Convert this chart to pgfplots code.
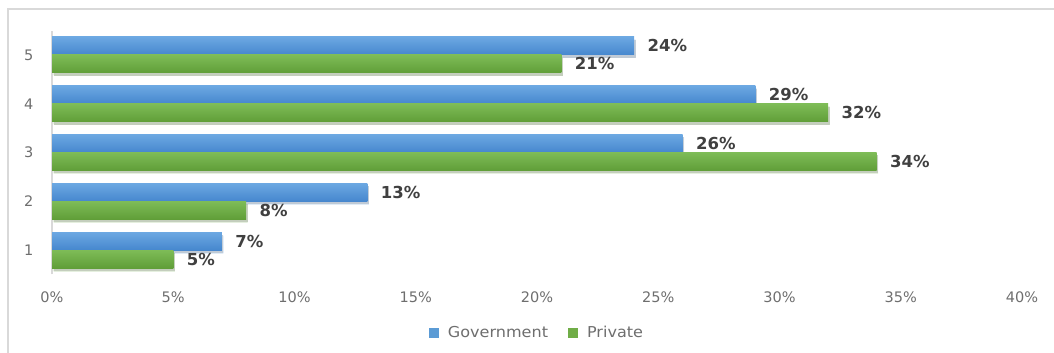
\documentclass[border=0pt]{standalone}
\usepackage{fontspec}
\setmainfont{DejaVu Sans}
\newfontfamily\legfont[FakeStretch=1.07]{DejaVu Sans}
\usepackage{pgfplots}
\pgfplotsset{compat=1.18}

\definecolor{govtop}{HTML}{6CA8E2}
\definecolor{govbot}{HTML}{4687CE}
\definecolor{gov}{HTML}{5B9BD5}
\definecolor{pritop}{HTML}{7EBC57}
\definecolor{pribot}{HTML}{609E38}
\definecolor{pri}{HTML}{70AD47}
\definecolor{ticklab}{HTML}{6E6E6E}
\definecolor{datalab}{HTML}{404040}
\definecolor{framecol}{HTML}{D9D9D9}

\pgfplotsset{
  govbar/.style={draw=none, top color=govtop, bottom color=govbot, bar shift=9pt, forget plot,
    preaction={fill=black, fill opacity=0.16, transform canvas={shift={(1.5pt,-3pt)}}}},
  pribar/.style={draw=none, top color=pritop, bottom color=pribot, bar shift=-9pt, forget plot,
    preaction={fill=black, fill opacity=0.16, transform canvas={shift={(1.5pt,-3pt)}}}},
}

\begin{document}
\begin{tikzpicture}
\useasboundingbox (0pt,0pt) rectangle (1054pt,353pt);
\draw[framecol, line width=1.2pt] (8pt,0pt) -- (8pt,344pt) -- (1054pt,344pt);
\begin{axis}[
  at={(52pt,78.6pt)}, anchor=south west,
  scale only axis, width=970pt, height=243.8pt,
  xmin=0, xmax=40, ymin=0.5, ymax=5.5,
  xbar, bar width=18pt,
  /pgf/number format/assume math mode=true,
  axis lines*=left,
  x axis line style={draw=none},
  y axis line style={framecol, line width=1.5pt},
  major tick length=0pt,
  xtick={0,5,...,40},
  xticklabels={0\%,5\%,10\%,15\%,20\%,25\%,30\%,35\%,40\%},
  ytick={1,2,3,4,5},
  tick label style={font=\fontsize{14.5}{15}\selectfont, text=ticklab},
  xticklabel style={yshift=-14pt},
  yticklabel style={xshift=-15pt},
  nodes near coords={\pgfmathprintnumber{\pgfplotspointmeta}\%},
  every node near coord/.append style={font=\bfseries\fontsize{16.5}{17}\selectfont, text=datalab, anchor=west, xshift=10pt},
  legend style={at={(0.5,-0.24)}, anchor=center, draw=none, legend columns=-1,
    font=\legfont\fontsize{15}{16}\selectfont, text=ticklab,
    /tikz/every odd column/.append style={column sep=7pt},
    /tikz/every even column/.append style={column sep=18pt}},
  legend image code/.code={\fill[#1] (0pt,-5pt) rectangle (10pt,5pt);},
]
% Government (shifted up), Private (shifted down)
\addplot[govbar] coordinates {(7,1)};
\addplot[govbar] coordinates {(13,2)};
\addplot[govbar] coordinates {(26,3)};
\addplot[govbar] coordinates {(29,4)};
\addplot[govbar] coordinates {(24,5)};
\addplot[pribar] coordinates {(5,1)};
\addplot[pribar] coordinates {(8,2)};
\addplot[pribar] coordinates {(34,3)};
\addplot[pribar] coordinates {(32,4)};
\addplot[pribar] coordinates {(21,5)};
\addlegendimage{fill=gov, draw=none}
\addlegendentry{Government}
\addlegendimage{fill=pri, draw=none}
\addlegendentry{Private}
\end{axis}
\end{tikzpicture}
\end{document}
